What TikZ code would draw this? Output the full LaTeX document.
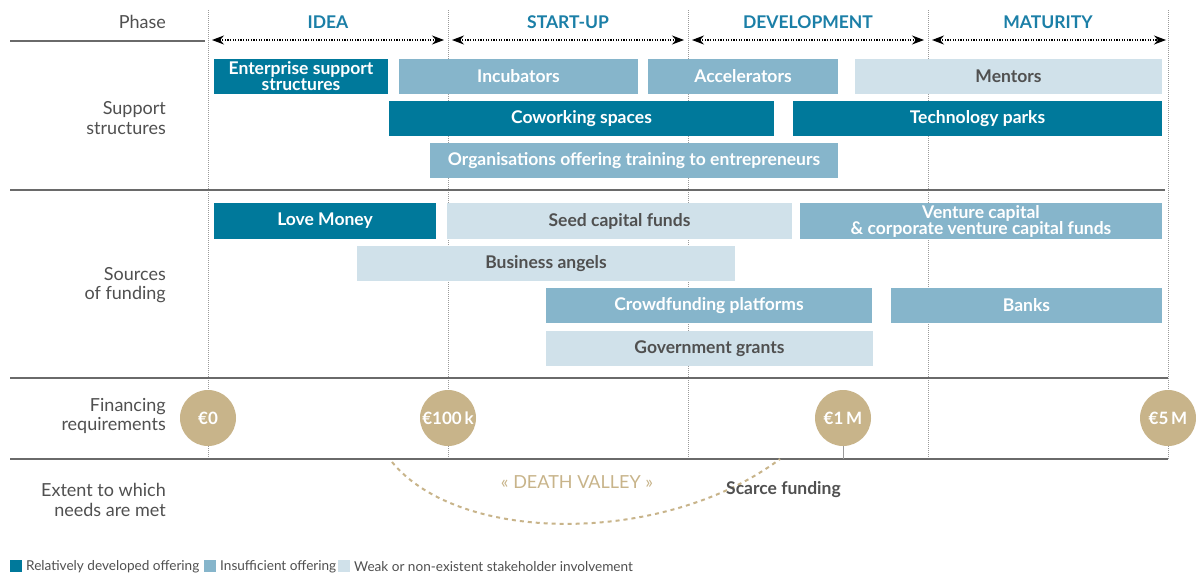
\documentclass[tikz,border=0pt]{standalone}
\usepackage{fontspec}
\setmainfont{Lato}
\usetikzlibrary{arrows.meta}

\definecolor{offerdark}{HTML}{00799B}
\definecolor{offermid}{HTML}{86B5CB}
\definecolor{offerlight}{HTML}{D0E1EA}
\definecolor{money}{HTML}{C8B48A}
\definecolor{phaseteal}{HTML}{1B7FA7}
\definecolor{labelgrey}{HTML}{505050}
\definecolor{rulegrey}{HTML}{6A6A6A}
\definecolor{gridgrey}{HTML}{9A9A9A}

\tikzset{
  bar/.style={rectangle, inner sep=0pt, minimum height=35pt, align=center,
    font=\fontsize{17.5}{16}\selectfont\bfseries},
  bardark/.style={bar, fill=offerdark, text=white},
  barmid/.style={bar, fill=offermid, text=white},
  barlight/.style={bar, fill=offerlight, text=labelgrey},
  rowlabel/.style={anchor=east, align=right, text=labelgrey, inner sep=0pt,
    font=\fontsize{18}{19.5}\selectfont},
  phasename/.style={text=phaseteal, font=\fontsize{17.5}{18}\selectfont\bfseries},
  rule/.style={draw=rulegrey, line width=1.4pt},
  grid/.style={draw=gridgrey, line width=0.6pt, dash pattern=on 1pt off 1pt},
  span/.style={line width=1.2pt, dash pattern=on 1.2pt off 1.4pt,
    {Stealth[length=12pt,width=9pt]}-{Stealth[length=12pt,width=9pt]}},
  amount/.style={circle, fill=money, text=white, minimum size=56pt, inner sep=0pt,
    font=\fontsize{17}{18}\selectfont\bfseries},
  keybox/.style={rectangle, inner sep=0pt, minimum size=12pt},
  keytext/.style={anchor=west, inner sep=0pt, text=labelgrey,
    font=\fontsize{13.6}{14}\selectfont},
}

\begin{document}
\begin{tikzpicture}[x=1pt, y=-1pt]
  \useasboundingbox[fill=white] (0,0) rectangle (1196,576);

  % phase boundaries
  \foreach \n/\x in {0/208, 1/448, 2/688, 3/928, 4/1168} {
    \coordinate (top\n) at (\x,10);
    \coordinate (bot\n) at (\x,460);
    \coordinate (b\n) at (\x,40);
    \draw[grid] (top\n) -- (bot\n);
  }

  % horizontal rules
  \draw[rule] (10,41) -- (205,41);
  \draw[rule] (10,190) -- (1165,190);
  \draw[rule] (10,378) -- (1168,378);
  \draw[rule] (10,459) -- (1168,459);

  % phase header
  \node[rowlabel] (phase) at (166,22) {Phase};
  \node[phasename] (idea) at (328,22) {IDEA};
  \node[phasename] (startup) at (568,22) {START-UP};
  \node[phasename] (devel) at (808,22) {DEVELOPMENT};
  \node[phasename] (matur) at (1048,22) {MATURITY};

  \draw[span] ([xshift=4pt]b0) -- ([xshift=-4pt]b1);
  \draw[span] ([xshift=4pt]b1) -- ([xshift=-4pt]b2);
  \draw[span] ([xshift=4pt]b2) -- ([xshift=-4pt]b3);
  \draw[span] ([xshift=4pt]b3) -- ([xshift=-2pt]b4);

  % support structures
  \node[rowlabel] (lsupport) at (166,118) {Support\\structures};
  \node[bardark, minimum width=174pt] (esup) at (301,76.5) {Enterprise support\\structures};
  \node[barmid, minimum width=239pt] (incub) at (518.5,76.5) {Incubators};
  \node[barmid, minimum width=190pt] (accel) at (743,76.5) {Accelerators};
  \node[barlight, minimum width=307pt] (mentors) at (1008.5,76.5) {Mentors};
  \node[bardark, minimum width=385pt] (cowork) at (581.5,118.5) {Coworking spaces};
  \node[bardark, minimum width=369pt] (techp) at (977.5,118.5) {Technology parks};
  \node[barmid, minimum width=408pt] (train) at (634,160.5) {Organisations offering training to entrepreneurs};

  % sources of funding
  \node[rowlabel] (lfunding) at (166,285) {Sources\\of funding};
  \node[bardark, minimum width=222pt, minimum height=36pt] (love) at (325,221) {Love Money};
  \node[barlight, minimum width=345pt, minimum height=36pt] (seed) at (619.5,221) {Seed capital funds};
  \node[barmid, minimum width=362pt, minimum height=36pt] (vc) at (981,221) {Venture capital\\\& corporate venture capital funds};
  \node[barlight, minimum width=378pt] (angels) at (546,263.5) {Business angels};
  \node[barmid, minimum width=326pt] (crowd) at (709,305.5) {Crowdfunding platforms};
  \node[barmid, minimum width=271pt] (banks) at (1026.5,305.5) {Banks};
  \node[barlight, minimum width=327pt] (grants) at (709.5,348.5) {Government grants};

  % financing requirements
  \node[rowlabel] (lfinance) at (166,416) {Financing\\requirements};
  \node[amount] (e0) at (208,418) {€0};
  \node[amount] (e100k) at (448,418) {€100\,k};
  \node[amount] (e1m) at (843,418) {€1\,M};
  \node[amount] (e5m) at (1168,418) {€5\,M};
  \coordinate (e1mfoot) at (843,459);
  \draw[draw=gridgrey, line width=0.8pt] (e1m.south) -- (e1mfoot);

  % extent to which needs are met
  \node[rowlabel] (lneeds) at (166,500) {Extent to which\\needs are met};
  \coordinate (dvL) at (392,462);
  \coordinate (dvR) at (780,459);
  \draw[draw=money, line width=2pt, dash pattern=on 4pt off 4pt]
    (dvL) .. controls (460,545) and (665,545) .. (dvR);
  \node[text=money, font=\fontsize{18}{18}\selectfont] (dv) at (577,482) {« DEATH VALLEY »};
  \node[anchor=west, inner sep=0pt, text=labelgrey, font=\fontsize{17.5}{18}\selectfont\bfseries] (scarce) at (726,490) {Scarce funding};

  % key
  \node[keybox, fill=offerdark] (k1) at (16,566) {};
  \node[keytext] (t1) at (26,567) {Relatively developed offering};
  \node[keybox, fill=offermid] (k2) at (210,566) {};
  \node[keytext] (t2) at (220,567) {Insufficient offering};
  \node[keybox, fill=offerlight] (k3) at (344,566) {};
  \node[keytext] (t3) at (354,567) {Weak or non-existent stakeholder involvement};
\end{tikzpicture}
\end{document}
